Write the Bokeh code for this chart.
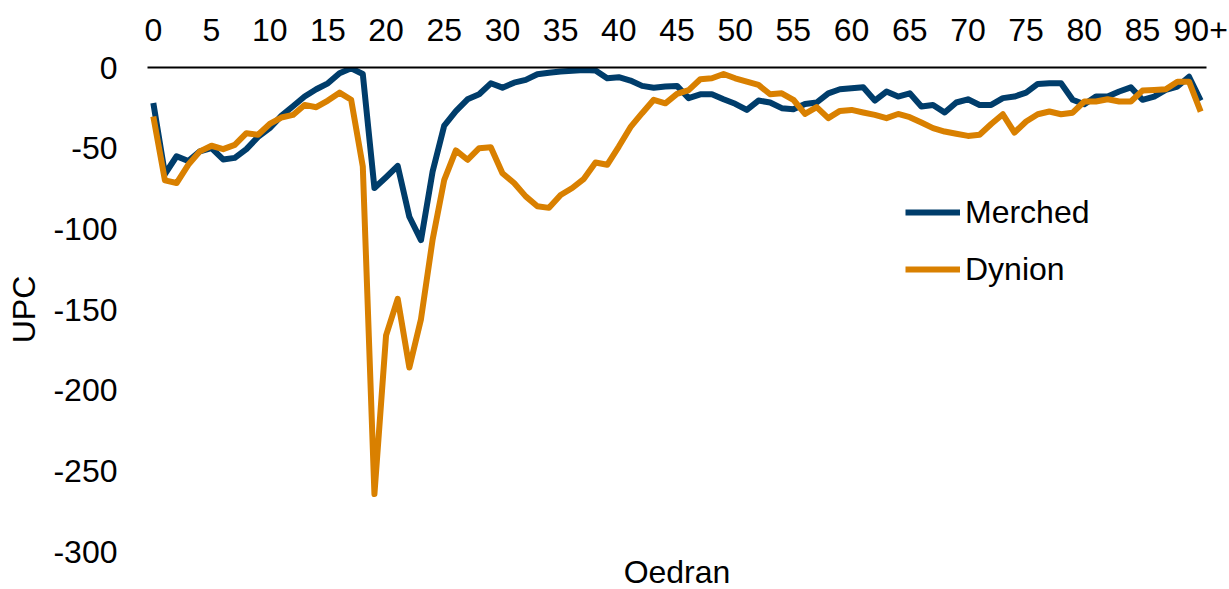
from bokeh.plotting import figure
from bokeh.models import Range1d, FixedTicker, Legend, LegendItem, Title
from bokeh.embed import file_html
from bokeh.resources import INLINE

ages = list(range(91))
tick_positions = [0, 5, 10, 15, 20, 25, 30, 35, 40, 45, 50, 55, 60, 65, 70, 75, 80, 85, 90]
tick_labels = ["0", "5", "10", "15", "20", "25", "30", "35", "40", "45", "50", "55", "60",
               "65", "70", "75", "80", "85", "90+"]
y_ticks = [0, -50, -100, -150, -200, -250, -300]
y_labels = ["0", "-50", "-100", "-150", "-200", "-250", "-300"]

merched = [-22, -66, -55, -58, -52, -50, -57, -56, -50.6, -43,
           -37.6, -30, -24, -18, -13.5, -9.8, -3.6, -0.5, -4, -74.7,
           -68, -61, -92.5, -107, -64.4, -36, -27, -19.7, -16.6, -9.8,
           -12.5, -9.4, -7.7, -4.2, -3.2, -2.5, -2, -1.5, -1.8, -6.7,
           -6, -8.1, -11.4, -12.5, -11.8, -11.4, -19, -16.6, -16.6, -19.7,
           -22.5, -26.3, -20.5, -21.7, -25.2, -25.9, -22.6, -21.7, -16, -13.5,
           -12.9, -12.3, -20.5, -14.9, -18, -16, -24.2, -23.2, -27.9, -21.7,
           -19.7, -23.2, -23.2, -19, -18, -15.6, -10.2, -9.8, -9.8, -20,
           -22.8, -18, -18, -14.9, -12.3, -20, -18, -13.9, -11.8, -5.7,
           -20.5]

dynion = [-30.4, -70, -71.6, -60.3, -52, -48.5, -50.6, -48, -40.7, -41.7,
          -35, -31, -29.4, -23.2, -24.6, -20.5, -15.6, -20, -61.3, -264.4,
          -166, -143.4, -186, -156, -106.7, -69.6, -51.4, -57.2, -50, -49.4,
          -65.5, -71.6, -79.9, -86, -87, -79, -74.7, -69, -58.9, -60.3,
          -49, -37, -28.3, -20, -22.2, -16.4, -14, -7.3, -6.7, -4,
          -6.7, -8.8, -10.8, -16.6, -16, -20, -28.8, -24.6, -31.4, -26.9,
          -26.3, -27.9, -29.4, -31.4, -28.8, -30.8, -34.1, -37.6, -39.7, -41.1,
          -42.4, -41.7, -35, -29, -40.3, -33.5, -29, -27.3, -29, -28,
          -21.1, -21.1, -19.7, -21.1, -21.1, -14.3, -13.9, -13.5, -8.8, -8.8,
          -27.3]

series_names = ["Merched", "Dynion"]
colors = ["#003D6B", "#D98000"]
FONT = "Liberation Sans"
FS = "32px"

p = figure(width=1229, height=589, output_backend="svg", toolbar_location=None,
           x_range=Range1d(-0.5, 90.5), y_range=Range1d(-300, 0),
           x_axis_location="above",
           min_border_left=147, min_border_right=23, min_border_top=67, min_border_bottom=37)
p.outline_line_color = None
p.xgrid.grid_line_color = None
p.ygrid.grid_line_color = None

r1 = p.line(ages, merched, line_color=colors[0], line_width=6, line_join="round")
r2 = p.line(ages, dynion, line_color=colors[1], line_width=6, line_join="round")

xa = p.xaxis[0]
xa.ticker = FixedTicker(ticks=tick_positions)
xa.major_label_overrides = {t: l for t, l in zip(tick_positions, tick_labels)}
xa.major_tick_in = 0
xa.major_tick_out = 0
xa.minor_tick_in = 0
xa.minor_tick_out = 0
xa.axis_line_color = "black"
xa.axis_line_width = 2
xa.major_label_text_font = FONT
xa.major_label_text_font_size = FS
xa.major_label_text_color = "black"
xa.major_label_standoff = 27

ya = p.yaxis[0]
ya.ticker = FixedTicker(ticks=y_ticks)
ya.major_label_overrides = {t: l for t, l in zip(y_ticks, y_labels)}
ya.major_tick_in = 0
ya.major_tick_out = 0
ya.minor_tick_in = 0
ya.minor_tick_out = 0
ya.axis_line_color = None
ya.major_label_text_font = FONT
ya.major_label_text_font_size = FS
ya.major_label_text_color = "black"
ya.major_label_standoff = 30
ya.axis_label = "UPC"
ya.axis_label_text_font = FONT
ya.axis_label_text_font_size = FS
ya.axis_label_text_font_style = "normal"
ya.axis_label_text_color = "black"
ya.axis_label_standoff = 8

xtitle = Title(text="Oedran", align="center", text_font=FONT, text_font_size=FS,
               text_font_style="normal", text_color="black", standoff=0)
p.add_layout(xtitle, "below")

legend = Legend(items=[LegendItem(label=series_names[0], renderers=[r1]),
                       LegendItem(label=series_names[1], renderers=[r2])],
                location=(758, 262), orientation="vertical",
                glyph_width=55, glyph_height=40, label_height=40, label_standoff=5,
                spacing=17, padding=0, margin=0,
                border_line_alpha=0, background_fill_alpha=0,
                label_text_font=FONT, label_text_font_size=FS, label_text_color="black")
p.add_layout(legend)

open("out.html", "w").write(file_html(p, INLINE))
